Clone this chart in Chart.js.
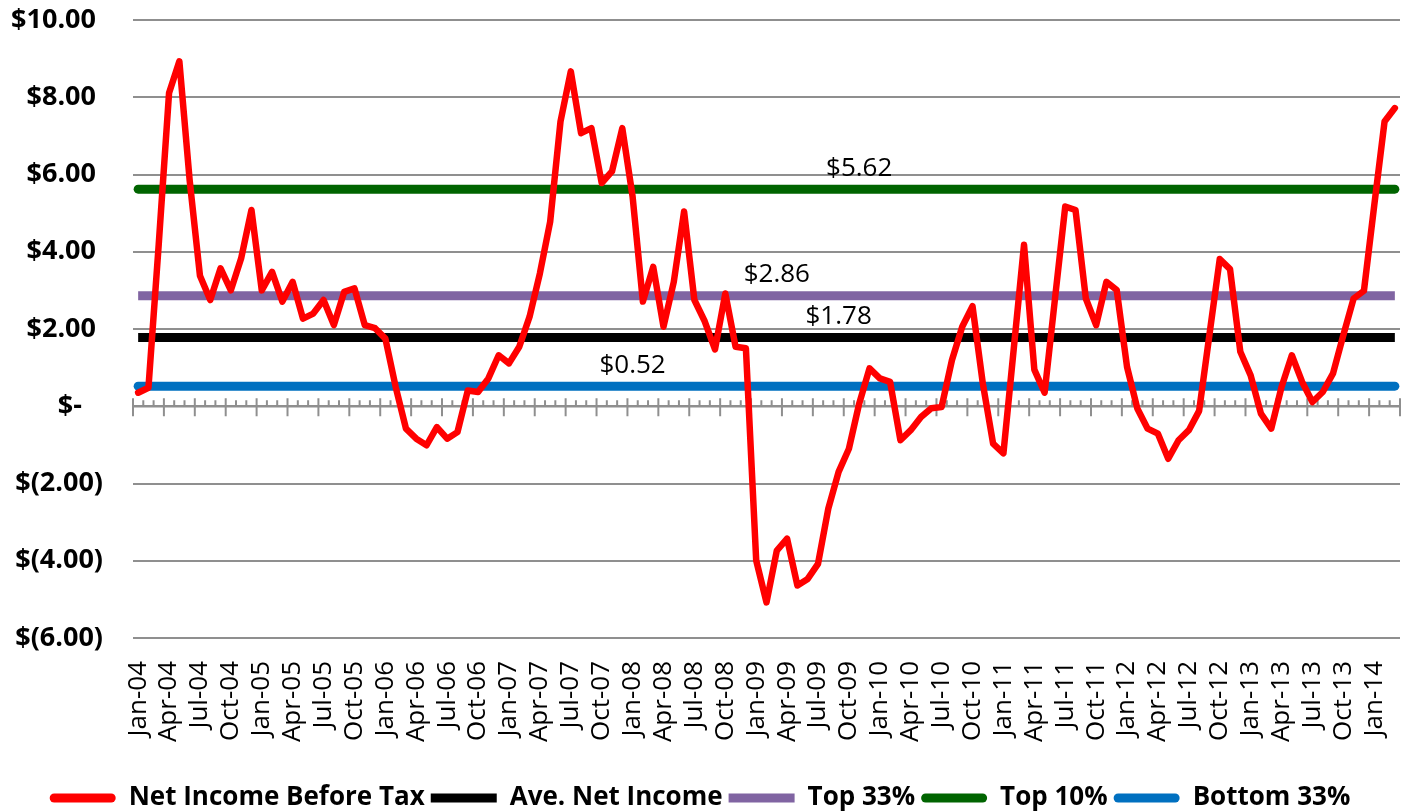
<!DOCTYPE html>
<html>
<head>
<meta charset="utf-8">
<script src="https://cdn.jsdelivr.net/npm/chart.js@4.4.1/dist/chart.umd.min.js"></script>
<style>
  html, body { margin: 0; padding: 0; background: #fff; }
</style>
</head>
<body>
<canvas id="income-chart" width="1404" height="812"></canvas>
<script>
// month labels, Jan-04 .. Mar-14
const monthNames = ["Jan", "Feb", "Mar", "Apr", "May", "Jun", "Jul", "Aug", "Sep", "Oct", "Nov", "Dec"];
const months = [];
for (let yr = 4; yr <= 14; yr++) {
  monthNames.forEach((m, mi) => {
    if (yr === 14 && mi > 2) return;
    months.push(m + "-" + String(yr).padStart(2, "0"));
  });
}

// one value per month
const netIncome = [
  0.35, 0.48, 4.2, 8.11, 8.93, 5.85, 3.38, 2.75, 3.57, 3.0,
  3.83, 5.08, 3.0, 3.48, 2.71, 3.22, 2.27, 2.40, 2.75, 2.10,
  2.96, 3.05, 2.10, 2.02, 1.75, 0.5, -0.58, -0.84, -1.01, -0.54,
  -0.84, -0.67, 0.41, 0.37, 0.72, 1.32, 1.11, 1.54, 2.32, 3.44,
  4.78, 7.37, 8.67, 7.07, 7.20, 5.78, 6.08, 7.20, 5.43, 2.71,
  3.61, 2.06, 3.22, 5.04, 2.75, 2.2, 1.47, 2.92, 1.54, 1.50,
  -3.99, -5.08, -3.74, -3.43, -4.64, -4.47, -4.08, -2.65, -1.70, -1.10,
  0.07, 0.98, 0.72, 0.63, -0.88, -0.62, -0.28, -0.05, -0.02, 1.19,
  2.06, 2.59, 0.59, -0.97, -1.22, 1.48, 4.18, 0.95, 0.35, 2.77,
  5.17, 5.08, 2.79, 2.10, 3.22, 3.01, 1.02, -0.06, -0.58, -0.71,
  -1.36, -0.88, -0.62, -0.12, 1.85, 3.81, 3.55, 1.41, 0.80, -0.19,
  -0.58, 0.50, 1.32, 0.63, 0.11, 0.37, 0.85, 1.84, 2.79, 2.99,
  5.2, 7.37, 7.72
];

const aveNetIncome = 1.78;
const top33 = 2.86;
const top10 = 5.62;
const bottom33 = 0.52;

const yMin = -6;
const yMax = 10;
const yStep = 2;

const gridColor = "#8f8f8f";
Chart.defaults.font.family = "'Open Sans', sans-serif";
Chart.defaults.color = "#000";

const flat = (v) => months.map(() => v);

// zero axis with month tick marks (axis crosses at 0, labels stay low)
const zeroAxis = {
  id: "zeroAxis",
  beforeDatasetsDraw(chart) {
    const { ctx, chartArea, scales: { x, y } } = chart;
    const y0 = y.getPixelForValue(0);
    const step = x.getPixelForValue(1) - x.getPixelForValue(0);
    const first = x.getPixelForValue(0) - step / 2;
    ctx.save();
    ctx.strokeStyle = gridColor;
    ctx.lineWidth = 2.5;
    ctx.beginPath();
    ctx.moveTo(chartArea.left, y0);
    ctx.lineTo(chartArea.right, y0);
    ctx.stroke();
    ctx.lineWidth = 2;
    for (let i = 0; i <= months.length; i++) {
      const px = first + i * step;
      const major = i % 3 === 0;
      ctx.beginPath();
      ctx.moveTo(px, major ? y0 - 8 : y0 - 6);
      ctx.lineTo(px, major ? y0 + 10 : y0);
      ctx.stroke();
    }
    ctx.restore();
  }
};

// "$5.62" style labels on the flat lines
const lineLabels = {
  id: "lineLabels",
  afterDatasetsDraw(chart, args, opts) {
    const { ctx } = chart;
    ctx.save();
    ctx.font = "26px 'Open Sans'";
    ctx.fillStyle = "#000";
    ctx.textAlign = "center";
    ctx.textBaseline = "middle";
    chart.data.datasets.forEach((ds, di) => {
      const at = opts.at[di];
      if (at === undefined) return;
      const pt = chart.getDatasetMeta(di).data[at];
      ctx.fillText("$" + ds.data[at].toFixed(2), pt.x, pt.y - 21);
    });
    ctx.restore();
  }
};

const lineSet = (label, data, color, width, cap) => ({
  label: label,
  data: data,
  borderColor: color,
  backgroundColor: color,
  borderWidth: width,
  borderCapStyle: cap,
  borderJoinStyle: "round",
  pointRadius: 0,
  tension: 0,
  fill: false
});

new Chart(document.getElementById("income-chart"), {
  type: "line",
  data: {
    labels: months,
    datasets: [
      lineSet("Net Income Before Tax", netIncome, "#ff0000", 6.5, "round"),
      lineSet("Ave. Net Income", flat(aveNetIncome), "#000000", 9, "butt"),
      lineSet("Top 33%", flat(top33), "#8064a2", 9, "butt"),
      lineSet("Top 10%", flat(top10), "#006400", 9, "round"),
      lineSet("Bottom 33%", flat(bottom33), "#0070c0", 9, "round")
    ]
  },
  options: {
    responsive: false,
    animation: false,
    layout: { padding: { top: 20, right: 4, left: 0, bottom: -9 } },
    scales: {
      x: {
        offset: true,
        grid: { display: false, drawTicks: false },
        border: { display: false },
        ticks: {
          autoSkip: false,
          maxRotation: 90,
          minRotation: 90,
          padding: 23,
          font: { size: 26 },
          callback: (v, i) => (i % 3 === 0 ? months[i] : "")
        },
        afterFit: (s) => {
          s.height = 141;
          s.paddingLeft = 0;
          s.paddingRight = 0;
        }
      },
      y: {
        min: yMin,
        max: yMax,
        ticks: {
          stepSize: yStep,
          padding: 30,
          font: { size: 27, weight: "bold" },
          callback: (v) => {
            if (v === 0) return "$-   ";
            if (v < 0) return "$(" + Math.abs(v).toFixed(2) + ")";
            return "$" + v.toFixed(2) + " ";
          }
        },
        grid: { color: gridColor, lineWidth: 2, drawTicks: false },
        border: { display: false },
        afterFit: (s) => {
          s.width = 133;
          s.paddingTop = 0;
          s.paddingBottom = 0;
        }
      }
    },
    plugins: {
      legend: {
        position: "bottom",
        labels: {
          boxWidth: 66,
          boxHeight: 9,
          padding: 6,
          useBorderRadius: true,
          font: { size: 26, weight: "bold" },
          generateLabels(chart) {
            const items = Chart.defaults.plugins.legend.labels.generateLabels(chart);
            items.forEach((it) => {
              const ds = chart.data.datasets[it.datasetIndex];
              it.fillStyle = ds.borderColor;
              it.lineWidth = 0;
              it.borderRadius = ds.borderCapStyle === "round" ? 4.5 : 0;
            });
            return items;
          }
        }
      },
      tooltip: { enabled: false },
      lineLabels: { at: { 1: 68, 2: 62, 3: 70, 4: 48 } }
    }
  },
  plugins: [zeroAxis, lineLabels]
});
</script>
</body>
</html>
